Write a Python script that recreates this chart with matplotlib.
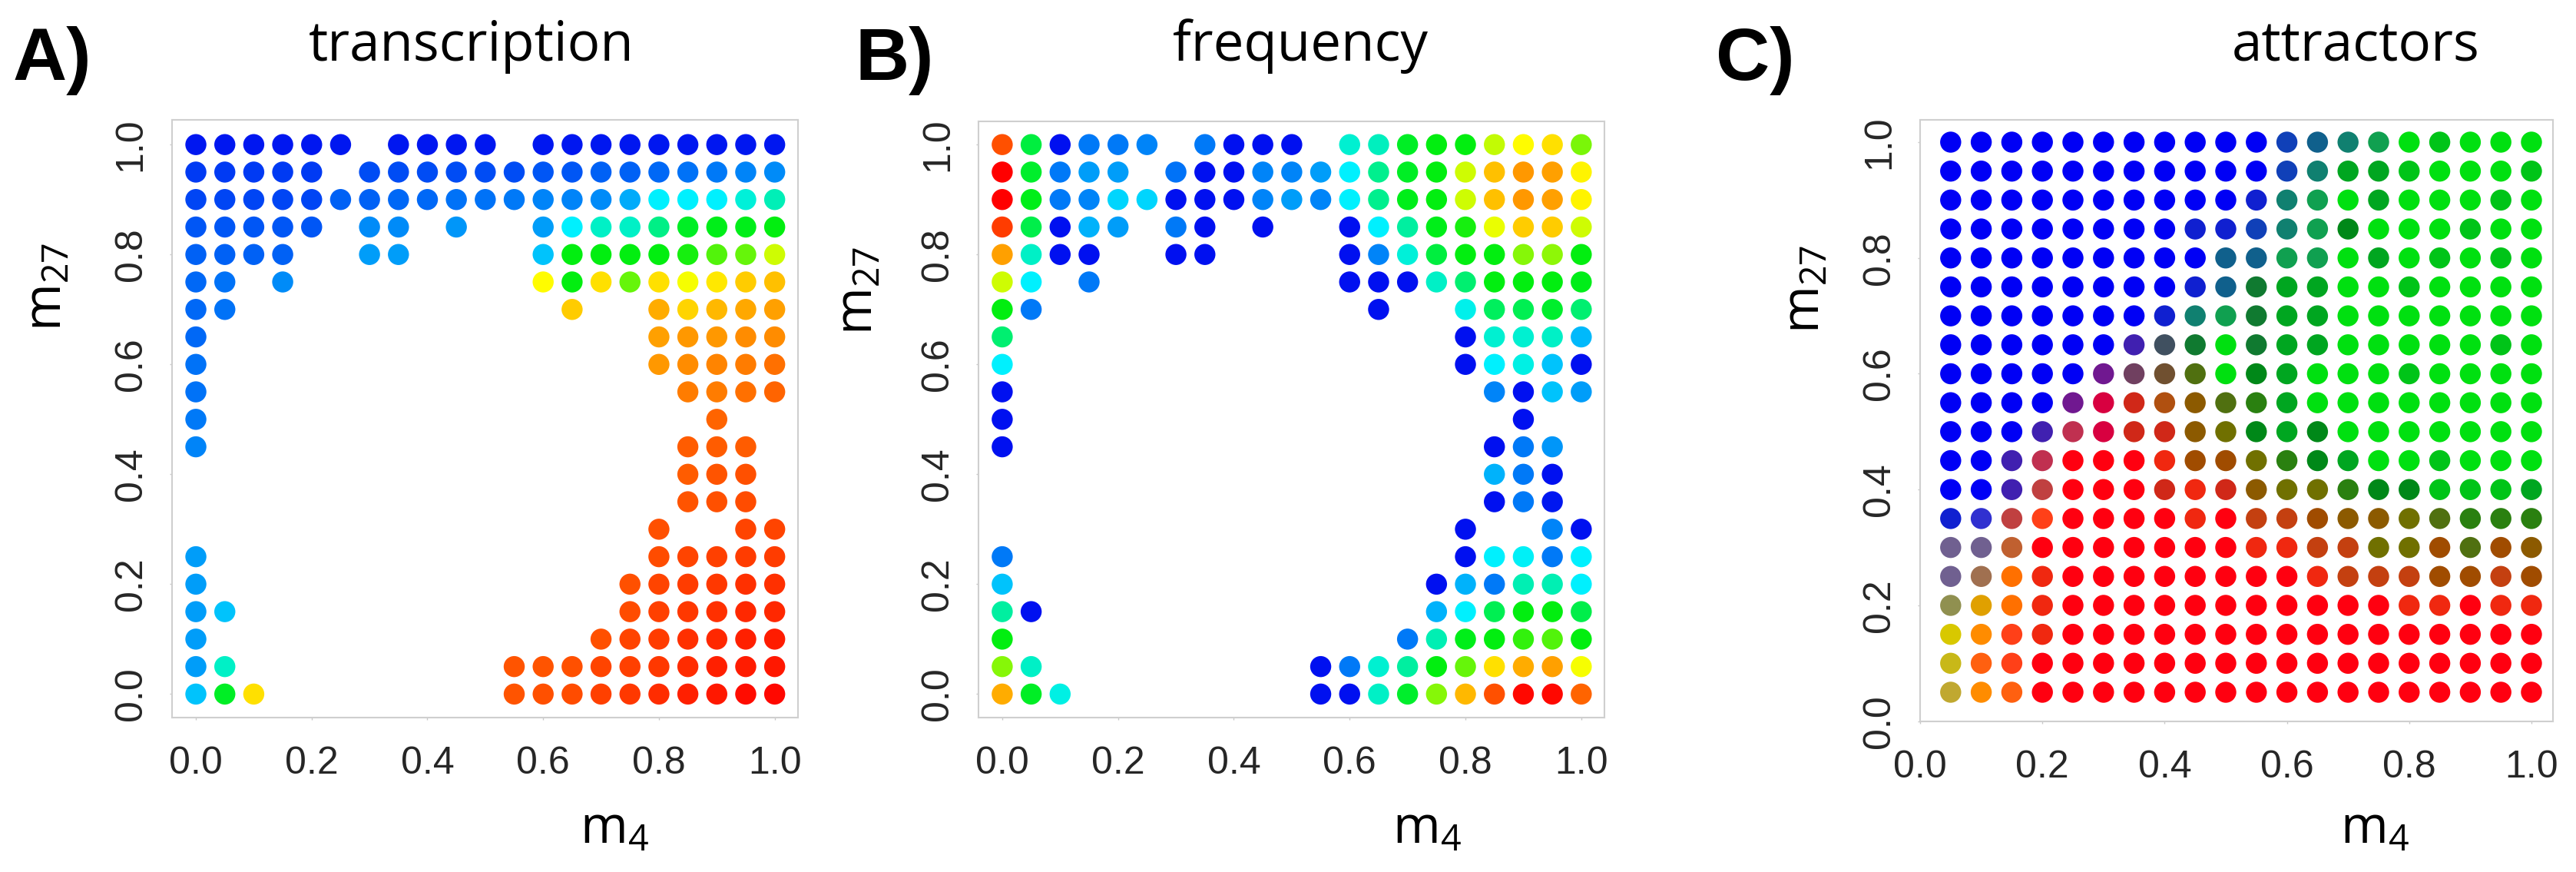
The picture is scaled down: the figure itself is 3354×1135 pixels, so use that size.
import matplotlib
matplotlib.use("Agg")
import matplotlib.pyplot as plt
from matplotlib.colors import LinearSegmentedColormap

# =====================================================
# Datos
# =====================================================
_ = None

# rejilla de los paneles A y B (21 x 21), fila superior primero
m4_grid = [0.00, 0.05, 0.10, 0.15, 0.20, 0.25, 0.30, 0.35, 0.40, 0.45, 0.50,
           0.55, 0.60, 0.65, 0.70, 0.75, 0.80, 0.85, 0.90, 0.95, 1.00]
m27_grid = [1.00, 0.95, 0.90, 0.85, 0.80, 0.75, 0.70, 0.65, 0.60, 0.55, 0.50,
            0.45, 0.40, 0.35, 0.30, 0.25, 0.20, 0.15, 0.10, 0.05, 0.00]

# valor en la escala de color (0 = azul ... 1 = rojo), None = sin punto
transcription = [
    [.01, .01, .01, .01, .01, .01, _, .01, .01, .01, .01, _, .01, .01, .01, .01, .01, .01, .01, .01, .01],
    [.05, .05, .05, .05, .05, _, .07, .07, .07, .07, .07, .07, .08, .08, .09, .09, .10, .11, .12, .13, .14],
    [.06, .06, .06, .06, .06, .09, .09, .10, .10, .11, .11, .12, .13, .13, .14, .175, .25, .25, .25, .29, .325],
    [.08, .08, .08, .08, .08, _, .14, .14, _, .15, _, _, .16, .25, .31, .31, .375, .48, .49, .49, .50],
    [.09, .09, .09, .09, _, _, .16, .16, _, _, _, _, .20, .50, .50, .50, .50, .52, .58, .60, .70],
    [.10, .11, _, .14, _, _, _, _, _, _, _, _, .75, .50, .78, .60, .78, .74, .77, .80, .81],
    [.10, .11] + [_] * 11 + [.80, _, _, .83, .79, .82, .835, .84],
    [.10] + [_] * 15 + [.84, .85, .85, .86, .86],
    [.11] + [_] * 15 + [.85, .86, .87, .875, .89],
    [.11] + [_] * 16 + [.875, .875, .89, .90],
    [.12] + [_] * 17 + [.90, _, _],
    [.13] + [_] * 16 + [.91, .91, .91, _],
    [_] * 17 + [.91, .915, .92, _],
    [_] * 17 + [.915, .92, .925, _],
    [_] * 16 + [.92, _, _, .93, .93],
    [.16] + [_] * 15 + [.925, .93, .935, .94, .94],
    [.16] + [_] * 14 + [.92, .93, .94, .945, .95, .95],
    [.16, .20] + [_] * 13 + [.925, .935, .945, .95, .96, .96],
    [.16] + [_] * 13 + [.92, .93, .94, .95, .96, .965, .97],
    [.16, .31] + [_] * 9 + [.915, .915, .92, .93, .935, .945, .955, .965, .97, .975],
    [.20, .48, .78] + [_] * 8 + [.915, .92, .925, .935, .945, .955, .965, .975, .985, .99],
]

frequency = [
    [.92, .45, .00, .12, .12, .13, _, .12, .00, .00, .00, _, .30, .32, .48, .50, .50, .69, .75, .78, .62],
    [1.0, .47, .12, .16, .16, _, .11, .00, .00, .13, .13, .16, .25, .37, .48, .50, .70, .81, .85, .84, .76],
    [1.0, .49, .12, .13, .22, .22, .00, .00, .00, .13, .16, .13, .25, .37, .49, .50, .70, .81, .85, .84, .76],
    [.94, .44, .00, .18, .16, _, .12, .00, _, .00, _, _, .00, .25, .35, .49, .52, .73, .80, .80, .70],
    [.84, .31, .00, .00, _, _, .00, .00, _, _, _, _, .00, .13, .29, .45, .50, .50, .63, .64, .50],
    [.70, .25, _, .12, _, _, _, _, _, _, _, _, .00, .00, .00, .31, .40, .50, .50, .50, .49],
    [.50, .12] + [_] * 11 + [.00, _, _, .27, .42, .43, .47, .40],
    [.40] + [_] * 15 + [.00, .30, .30, .31, .19],
    [.25] + [_] * 15 + [.00, .25, .28, .20, .00],
    [.00] + [_] * 16 + [.13, .00, .20, .16],
    [.00] + [_] * 17 + [.00, _, _],
    [.00] + [_] * 16 + [.00, .12, .15, _],
    [_] * 17 + [.18, .12, .00, _],
    [_] * 17 + [.00, .12, .01, _],
    [_] * 16 + [.00, _, _, .13, .00],
    [.12] + [_] * 15 + [.00, .25, .26, .12, .25],
    [.20] + [_] * 14 + [.00, .18, .12, .33, .33, .25],
    [.35, .00] + [_] * 13 + [.18, .25, .43, .50, .50, .44],
    [.50] + [_] * 13 + [.12, .33, .49, .50, .55, .58, .50],
    [.63, .31] + [_] * 9 + [.00, .12, .30, .35, .50, .60, .78, .83, .84, .74],
    [.83, .48, .28] + [_] * 8 + [.00, .00, .31, .47, .63, .82, .92, .99, .99, .90],
]

# panel C: rejilla de 20 x 20
m4_grid_c = [0.05, 0.10, 0.15, 0.20, 0.25, 0.30, 0.35, 0.40, 0.45, 0.50,
             0.55, 0.60, 0.65, 0.70, 0.75, 0.80, 0.85, 0.90, 0.95, 1.00]
m27_grid_c = [1.00, 0.95, 0.90, 0.85, 0.80, 0.75, 0.70, 0.65, 0.60, 0.55,
              0.50, 0.45, 0.40, 0.35, 0.30, 0.25, 0.20, 0.15, 0.10, 0.05]

# mezcla de atractores (azul / verde / rojo) codificada por letra
attractor_palette = {
    "B": "#0000f5", "b": "#1020d0", "W": "#3030d0", "i": "#1040b8",
    "t": "#10608c", "T": "#108070", "u": "#10a050", "k": "#107a30",
    "G": "#00e010", "g": "#00c418", "E": "#00a620", "d": "#008818",
    "D": "#2a8010", "o": "#507010", "O": "#707000", "w": "#8c5a00",
    "N": "#a04c00", "A": "#c44010", "M": "#b05010", "n": "#705030",
    "s": "#405060", "m": "#704060", "p": "#4020b0", "P": "#701890",
    "q": "#c03050", "Q": "#c04040", "c": "#d80040", "r": "#d02818",
    "x": "#f02810", "R": "#ff0010", "e": "#ff4018", "K": "#c06030",
    "v": "#706090", "a": "#a07050", "f": "#ff7000", "y": "#e0a000",
    "h": "#909050", "Y": "#d8c800", "z": "#c8b818", "j": "#c0a830",
    "l": "#ff8c00", "L": "#ff6010",
}
attractor_rows = [
    "BBBBBBBBBBBitTuGgGGG",
    "BBBBBBBBBBBiTEEgGGGg",
    "BBBBBBBBBBbTuGEGGGgG",
    "BBBBBBBBbbiTudGGGgGG",
    "BBBBBBBBBttuuGEGgGgG",
    "BBBBBBBBbtkEEGGgGGGG",
    "BBBBBBBbTukEEGGGGGGG",
    "BBBBBBpskGkEEGGGGGgG",
    "BBBBBPmnoGdEGGGgGGGG",
    "BBBBPcrMwoDEGGGGGGGG",
    "BBBpqcrrwOdEdGGGGGGG",
    "BBpqRRRxNNODdEGGgGGG",
    "BBpQRRRrxrwOODddgggE",
    "bWQeRRRRxRAANwwOoDDD",
    "vvKRRRRRRRxxAAOONoNw",
    "vafxRRRRRRRRxAAANNAN",
    "hyfxRRRRRRRRRRRxxRxx",
    "YlexRRRRRRRRRRRRRRRR",
    "zLeRRRRRRRRRRRRRRRRR",
    "jlLRRRRRRRRRRRRRRRRR",
]

tick_values = [0.0, 0.2, 0.4, 0.6, 0.8, 1.0]
tick_labels = ["0.0", "0.2", "0.4", "0.6", "0.8", "1.0"]

# =====================================================
# Estilo
# =====================================================
spectrum = LinearSegmentedColormap.from_list(
    "spectrum", [(0.0, "#0010f0"), (0.25, "#00f0ff"), (0.5, "#00ee10"),
                 (0.75, "#ffff00"), (1.0, "#ff0000")])
DOT = 390
TEXT_FONT = "Open Sans"
TICK_FONT = "Liberation Sans"


def style_axes(ax, xlim, ylim, xlab_xy, ylab_xy):
    ax.set_xlim(*xlim)
    ax.set_ylim(*ylim)
    ax.set_xticks(tick_values, labels=tick_labels)
    ax.set_yticks(tick_values, labels=tick_labels)
    ax.tick_params(direction="out", length=2, width=1, color="#c8c8c8",
                   labelsize=36, labelcolor="#262626")
    ax.tick_params(axis="x", pad=24.5)
    ax.tick_params(axis="y", labelrotation=90, pad=19.5)
    for lbl in ax.get_xticklabels() + ax.get_yticklabels():
        lbl.set_family(TICK_FONT)
    for lbl in ax.get_yticklabels():
        lbl.set_va("center")
    for sp in ax.spines.values():
        sp.set_color("#cfcfcf")
        sp.set_linewidth(1.5)
    ax.set_xlabel(r"$\mathregular{m_4}$", fontsize=48, family=TEXT_FONT)
    ax.set_ylabel(r"$\mathregular{m_{27}}$", fontsize=48, family=TEXT_FONT)
    ax.xaxis.set_label_coords(*xlab_xy)
    ax.yaxis.set_label_coords(*ylab_xy)
    ax.xaxis.label.set_va("baseline")
    ax.yaxis.label.set_va("baseline")


def draw_values(ax, table):
    xs, ys, vs = [], [], []
    for yv, row in zip(m27_grid, table):
        for xv, v in zip(m4_grid, row):
            if v is not None:
                xs.append(xv)
                ys.append(yv)
                vs.append(v)
    ax.scatter(xs, ys, c=vs, cmap=spectrum, vmin=0, vmax=1, s=DOT,
               linewidths=0, zorder=3)


def draw_attractors(ax):
    xs, ys, cs = [], [], []
    for yv, row in zip(m27_grid_c, attractor_rows):
        for xv, code in zip(m4_grid_c, row):
            xs.append(xv)
            ys.append(yv)
            cs.append(attractor_palette[code])
    ax.scatter(xs, ys, c=cs, s=DOT, linewidths=0, zorder=3)


# =====================================================
# Figura
# =====================================================
fig = plt.figure(figsize=(33.55, 11.35), dpi=100)

ax_a = fig.add_axes([0.06665, 0.17727, 0.24304, 0.68564])
draw_values(ax_a, transcription)
style_axes(ax_a, (-0.0417, 1.0403), (-0.0425, 1.0456), (0.707, -0.2097), (-0.1773, 0.7206))

ax_b = fig.add_axes([0.37973, 0.17727, 0.24292, 0.6837])
draw_values(ax_b, frequency)
style_axes(ax_b, (-0.041, 1.040), (-0.0425, 1.0425), (0.7166, -0.2103), (-0.1706, 0.716))

ax_c = fig.add_axes([0.74516, 0.17295, 0.2456, 0.6896])
draw_attractors(ax_c)
style_axes(ax_c, (0.0, 1.0352), (0.0, 1.0385), (0.718, -0.2023), (-0.160, 0.719))

# titulos y letras de panel
for x, txt in [(0.1830, "transcription"), (0.5046, "frequency"), (0.9142, "attractors")]:
    fig.text(x, 0.930, txt, ha="center", va="baseline", fontsize=51,
             family=TEXT_FONT, color="black")
for x, txt in [(0.0050, "A)"), (0.3320, "B)"), (0.6659, "C)")]:
    fig.text(x, 0.9084, txt, ha="left", va="baseline", fontsize=70,
             family="Liberation Sans", fontweight="bold", color="black")

fig.savefig("out.png", dpi=100)
